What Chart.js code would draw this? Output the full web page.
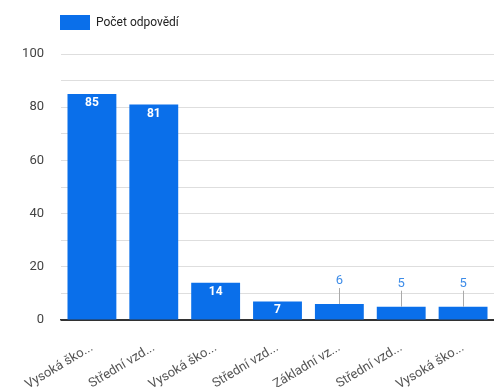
<!DOCTYPE html>
<html>
<head>
<meta charset="utf-8">
<script src="https://cdn.jsdelivr.net/npm/chart.js@4.4.1/dist/chart.umd.min.js"></script>
<style>
  html, body { margin: 0; padding: 0; background: #fff; }
  #wrap { width: 494px; height: 387px; position: relative; }
</style>
</head>
<body>
<div id="wrap"><canvas id="answersChart" width="494" height="387"></canvas></div>
<script>
const categories = [
    "Vysoká ško...",
    "Střední vzd...",
    "Vysoká ško...",
    "Střední vzd...",
    "Základní vz...",
    "Střední vzd...",
    "Vysoká ško..."
];
const answerCounts = [85, 81, 14, 7, 6, 5, 5];
const seriesName = "Počet odpovědí";
const yTickLabels = [0, 20, 40, 60, 80, 100];

const barColor = "#0a6fea";

// legend drawn by hand so it sits over the plot area like the original
const legendPlugin = {
    id: "topLegend",
    afterDraw(chart) {
        const c = chart.ctx;
        c.save();
        c.fillStyle = barColor;
        c.fillRect(60, 15, 30, 15);
        c.fillStyle = "#222";
        c.font = "12px Roboto";
        c.textBaseline = "middle";
        c.fillText(seriesName, 96, 23);
        c.restore();
    }
};

const valueLabels = {
    id: "valueLabels",
    afterDatasetsDraw(chart) {
        const c = chart.ctx;
        const meta = chart.getDatasetMeta(0);
        c.save();
        c.textAlign = "center";
        c.textBaseline = "middle";
        meta.data.forEach((bar, i) => {
            const v = answerCounts[i];
            const h = bar.base - bar.y;
            if (h >= 16) {
                c.fillStyle = "#fff";
                c.font = "bold 12px Roboto";
                c.fillText(String(v), bar.x, bar.y + 9);
            } else {
                c.strokeStyle = "#aaa";
                c.lineWidth = 1;
                c.beginPath();
                c.moveTo(Math.round(bar.x) + 0.5, bar.y - 16);
                c.lineTo(Math.round(bar.x) + 0.5, bar.y);
                c.stroke();
                c.fillStyle = "#3d8ce8";
                c.font = "13px Roboto";
                c.fillText(String(v), bar.x, bar.y - 23);
            }
        });
        c.restore();
    }
};

new Chart(document.getElementById("answersChart"), {
    type: "bar",
    data: {
        labels: categories,
        datasets: [{
            label: seriesName,
            data: answerCounts,
            backgroundColor: barColor,
            barPercentage: 0.79,
            categoryPercentage: 1
        }]
    },
    options: {
        responsive: false,
        animation: false,
        layout: { padding: { top: 54, left: 0, right: 0, bottom: 0 } },
        plugins: {
            legend: { display: false },
            tooltip: { enabled: false }
        },
        scales: {
            x: {
                grid: { display: false },
                border: { color: "#333", width: 1.5 },
                ticks: {
                    color: "#555",
                    font: { family: "Roboto", size: 13 },
                    maxRotation: 31,
                    minRotation: 31,
                    autoSkip: false,
                    padding: 12
                },
                afterFit(scale) { scale.height = 67; }
            },
            y: {
                min: 0,
                max: 100,
                border: { display: false },
                grid: {
                    drawTicks: false,
                    color: ctx => ctx.tick && ctx.tick.value === 0 ? "#333" : "#dedede"
                },
                ticks: {
                    stepSize: 10,
                    padding: 17,
                    color: "#444",
                    font: { family: "Roboto", size: 13 },
                    callback: v => yTickLabels.includes(v) ? String(v) : ""
                },
                afterFit(scale) { scale.width = 61; }
            }
        }
    },
    plugins: [legendPlugin, valueLabels]
});
</script>
</body>
</html>
